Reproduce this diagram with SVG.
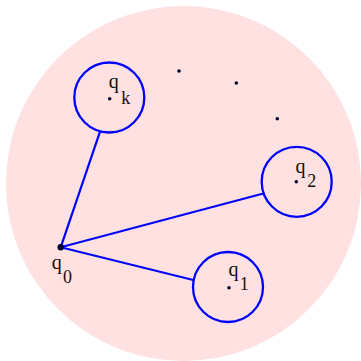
<svg xmlns="http://www.w3.org/2000/svg" width="361" height="361" viewBox="0 0 361 361">
<style>
.ball{fill:none;stroke:#0000ff;stroke-width:2.3}
.edge{stroke:#0000ff;stroke-width:2.2;fill:none}
.dot{fill:#000028}
.lbl{font-family:"Liberation Serif","DejaVu Serif",serif;font-size:20px;fill:#111}
.sub{font-family:"Liberation Serif","DejaVu Serif",serif;font-size:18px;fill:#111}
</style>
<rect width="361" height="361" fill="#ffffff"/>
<circle id="region" cx="183.5" cy="183.5" r="177.5" fill="#ffe1e1"/>
<g id="connectors">
<line class="edge" x1="60.7" y1="247.3" x2="100" y2="131.7"/>
<line class="edge" x1="60.7" y1="247.3" x2="264.3" y2="193.3"/>
<line class="edge" x1="60.7" y1="247.3" x2="193.3" y2="280"/>
</g>
<g id="q0">
<circle cx="60.7" cy="247.3" r="3.2" class="dot"/>
<text x="51.8" y="269" class="lbl">q</text><text x="63" y="282.5" class="sub">0</text>
</g>
<g id="qk">
<circle cx="109.3" cy="97.5" r="35" class="ball"/>
<circle cx="109.7" cy="98.7" r="1.8" class="dot"/>
<text x="108.8" y="87.5" class="lbl">q</text><text x="121.2" y="103.5" class="sub">k</text>
</g>
<g id="q2">
<circle cx="296.7" cy="181.8" r="35" class="ball"/>
<circle cx="296.3" cy="181.7" r="1.8" class="dot"/>
<text x="295.5" y="172.5" class="lbl">q</text><text x="307.3" y="186.8" class="sub">2</text>
</g>
<g id="q1">
<circle cx="228" cy="287" r="35" class="ball"/>
<circle cx="229" cy="287.7" r="1.8" class="dot"/>
<text x="228.5" y="276" class="lbl">q</text><text x="239.8" y="289.5" class="sub">1</text>
</g>
<g id="ellipsis">
<circle cx="179" cy="71" r="1.8" class="dot"/>
<circle cx="236.3" cy="83" r="1.8" class="dot"/>
<circle cx="277.3" cy="118.7" r="1.8" class="dot"/>
</g>
</svg>
